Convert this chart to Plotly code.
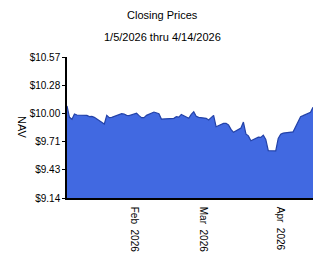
import plotly.graph_objects as go

dates = [
    "2026-01-05", "2026-01-06", "2026-01-07", "2026-01-08", "2026-01-09",
    "2026-01-12", "2026-01-13", "2026-01-14", "2026-01-15", "2026-01-16",
    "2026-01-20", "2026-01-21", "2026-01-22", "2026-01-23",
    "2026-01-26", "2026-01-27", "2026-01-28", "2026-01-29", "2026-01-30",
    "2026-02-02", "2026-02-03", "2026-02-04", "2026-02-05", "2026-02-06",
    "2026-02-09", "2026-02-10", "2026-02-11", "2026-02-12", "2026-02-13",
    "2026-02-17", "2026-02-18", "2026-02-19", "2026-02-20",
    "2026-02-23", "2026-02-24", "2026-02-25", "2026-02-26", "2026-02-27",
    "2026-03-02", "2026-03-03", "2026-03-04", "2026-03-05", "2026-03-06",
    "2026-03-09", "2026-03-10", "2026-03-11", "2026-03-12", "2026-03-13",
    "2026-03-16", "2026-03-17", "2026-03-18", "2026-03-19", "2026-03-20",
    "2026-03-23", "2026-03-24", "2026-03-25", "2026-03-26", "2026-03-27",
    "2026-03-30", "2026-03-31", "2026-04-01", "2026-04-02",
    "2026-04-06", "2026-04-07", "2026-04-08", "2026-04-09", "2026-04-10",
    "2026-04-13", "2026-04-14",
]
nav = [
    10.073, 9.958, 9.938, 9.992, 9.982,
    9.982, 9.978, 9.965, 9.968, 9.958,
    9.890, 9.978, 9.955, 9.958,
    9.982, 9.995, 9.992, 9.978, 9.975,
    10.000, 9.975, 9.955, 9.955, 9.978,
    10.012, 10.002, 9.995, 9.941, 9.941,
    9.948, 9.965, 9.961, 9.988,
    9.948, 9.988, 10.015, 9.968, 9.958,
    9.948, 9.931, 9.955, 9.978, 9.863,
    9.897, 9.897, 9.880, 9.836, 9.806,
    9.850, 9.910, 9.790, 9.770, 9.721,
    9.757, 9.754, 9.778, 9.734, 9.620,
    9.617, 9.744, 9.788, 9.798,
    9.811, 9.863, 9.924, 9.965, 9.975,
    10.009, 10.060,
]
y_ticks = [9.14, 9.43, 9.71, 10.00, 10.28, 10.57]
x_tick_vals = ["2026-02-01", "2026-03-01", "2026-04-01"]
x_tick_text = ["Feb  2026", "Mar  2026", "Apr  2026"]

font = "Liberation Sans, Arial, sans-serif"

fig = go.Figure()
fig.add_trace(go.Scatter(
    x=dates, y=nav, mode="lines", fill="tozeroy",
    fillcolor="#4169E1", line=dict(color="#2342A8", width=1.2),
    hoverinfo="skip",
))

fig.update_layout(
    width=324, height=267,
    margin=dict(l=67, r=11, t=57, b=69),
    paper_bgcolor="white", plot_bgcolor="white",
    showlegend=False,
    font=dict(family=font, size=10, color="black"),
    xaxis=dict(
        range=["2026-01-05", "2026-04-14"],
        tickvals=x_tick_vals, ticktext=x_tick_text,
        tickangle=90, showgrid=False, zeroline=False,
        showline=True, linecolor="black", linewidth=1.5,
        ticks="", ticklabelstandoff=5,
        tickfont=dict(family=font, size=10, color="black"),
    ),
    yaxis=dict(
        range=[9.14, 10.57], tickvals=y_ticks,
        ticktext=["$%.2f" % v for v in y_ticks],
        showgrid=False, zeroline=False,
        showline=True, linecolor="black", linewidth=1.5,
        ticks="outside", ticklen=3, tickcolor="black", tickwidth=1,
        tickfont=dict(family=font, size=10, color="black"),
    ),
)

pw = 324 - 67 - 11
ph = 267 - 57 - 69


def px_to_paper(px, py):
    return (px - 67) / pw, (267 - 69 - py) / ph


for text, px, py, angle in [
    ("Closing Prices", 162, 15, 0),
    ("1/5/2026 thru 4/14/2026", 162, 37, 0),
    ("NAV", 22, 127, 90),
]:
    ax, ay = px_to_paper(px, py)
    fig.add_annotation(text=text, x=ax, y=ay, xref="paper", yref="paper",
                       xanchor="center", yanchor="middle", textangle=angle,
                       showarrow=False, font=dict(family=font, size=11))

fig.write_html("out.html")
